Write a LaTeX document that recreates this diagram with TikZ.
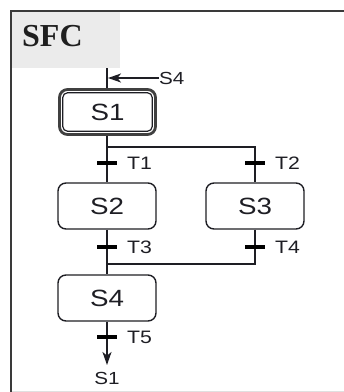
\documentclass[tikz,border=0pt]{standalone}
\usepackage{fontspec}
\setmainfont[FakeStretch=1.18]{Liberation Sans}
\newfontfamily\sfcfont{Liberation Serif}
\usetikzlibrary{arrows.meta}
\definecolor{ink}{HTML}{1E1E24}
\definecolor{hdr}{HTML}{EBEBEB}
\definecolor{frm}{HTML}{3A3A3A}
\begin{document}
\begin{tikzpicture}[x=1pt,y=-1pt,
  stepbox/.style={draw=ink, line width=1.4pt, rounded corners=8pt, minimum width=98pt, minimum height=46pt, inner sep=0pt, font=\fontsize{23.5}{24}\selectfont, text=ink},
  initbox/.style={stepbox, draw=black!75, line width=2.8pt, minimum width=96pt, minimum height=45pt},
  link/.style={draw=ink, line width=1.4pt},
  tip/.style={-{Stealth[length=13pt,width=9pt,inset=3.5pt]}},
  trans/.style={fill=black, minimum width=20pt, minimum height=3.4pt, inner sep=0pt},
  tlabel/.style={anchor=west, inner sep=0pt, font=\fontsize{18}{18}\selectfont, text=ink},
  reflabel/.style={inner sep=0pt, font=\fontsize{17.5}{18}\selectfont, text=ink}
]
\useasboundingbox (0,0) rectangle (344,392);
% frame and header
\fill[hdr] (12,12) rectangle (120,68);
\draw[frm, line width=2pt] (344,11) -- (11,11) -- (11,392);
\draw[black!12, line width=1pt] (12,391) -- (344,391);
\node[anchor=west, inner sep=0pt, font=\sfcfont\bfseries\fontsize{32}{32}\selectfont, text=black!88] (title) at (22,36) {SFC};

% steps
\node[initbox] (s1) at (107.5,112) {S1};
\draw[ink, line width=1.2pt, rounded corners=5pt] ([shift={(4.6,4.6)}]s1.north west) rectangle ([shift={(-4.6,-4.6)}]s1.south east);
\node[stepbox] (s2) at (107,206) {S2};
\node[stepbox] (s3) at (255,206) {S3};
\node[stepbox] (s4) at (107,298) {S4};

% references
\node[reflabel, anchor=west] (r4) at (159,78) {S4};
\node[reflabel] (r1) at (107,378) {S1};
\coordinate (in) at (107,68);
\coordinate (inarrow) at (108,78);
\coordinate (divL) at (107,147);
\coordinate (convL) at (107,264);
\coordinate (outend) at (107,365);

% connectors
\draw[link] (in) -- (s1.north -| in);
\draw[link, tip] (r4.west) -- (inarrow);
\draw[link] (s1.south -| s2.north) -- (s2.north);
\draw[link] (divL) -| (s3.north);
\draw[link] (s2.south) -- (s4.north);
\draw[link] (s3.south) |- (convL);
\draw[link, tip] (s4.south) -- (outend);

% transitions
\node[trans] (t1) at (107,163) {};
\node[trans] (t2) at (255,163) {};
\node[trans] (t3) at (107,247) {};
\node[trans] (t4) at (255,247) {};
\node[trans] (t5) at (107,337) {};
\node[tlabel] (lt1) at (127,163) {T1};
\node[tlabel] (lt2) at (275,163) {T2};
\node[tlabel] (lt3) at (127,247) {T3};
\node[tlabel] (lt4) at (275,247) {T4};
\node[tlabel] (lt5) at (127,337) {T5};
\end{tikzpicture}
\end{document}
